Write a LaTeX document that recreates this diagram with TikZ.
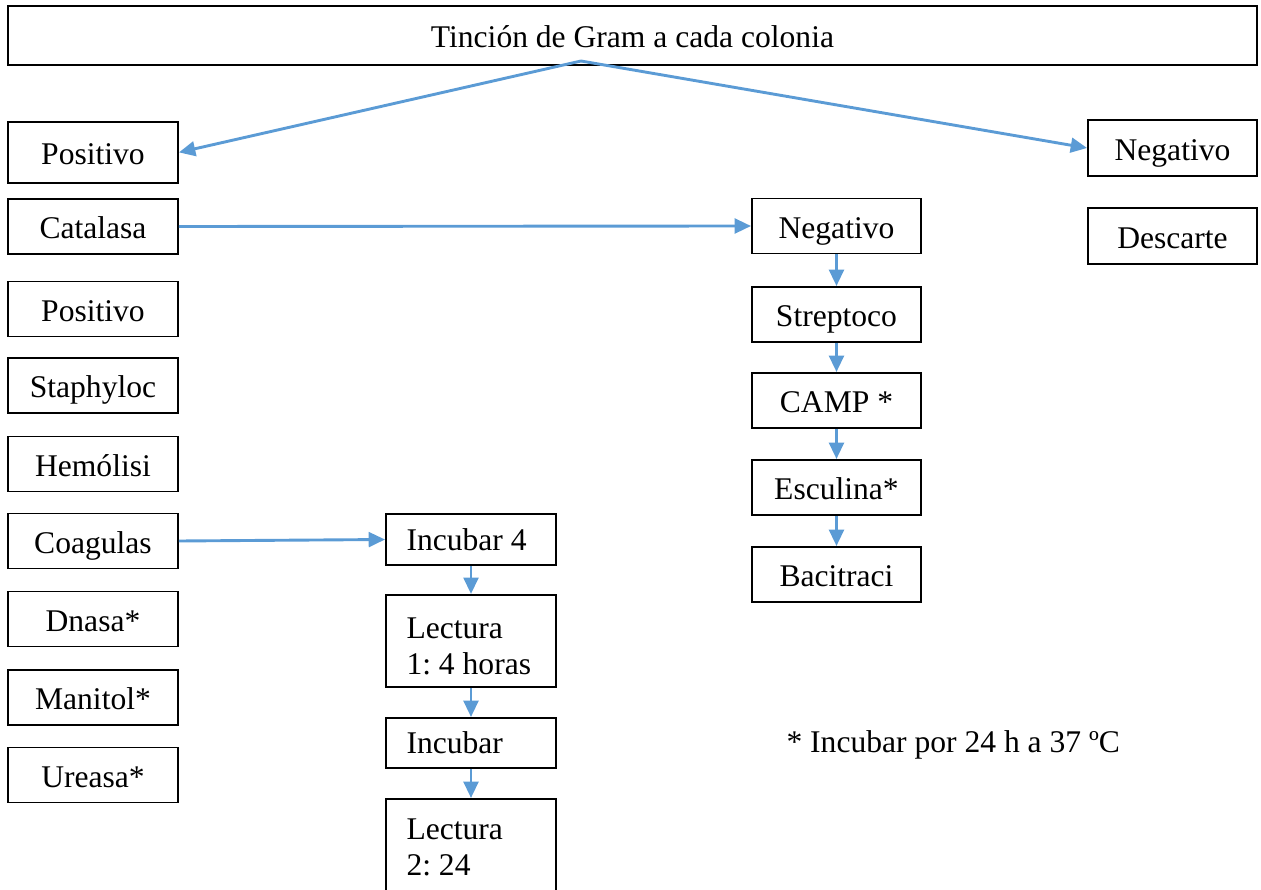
\documentclass[tikz,border=0pt]{standalone}
\usepackage{fontspec}
\setmainfont{Liberation Serif}
\usetikzlibrary{arrows.meta}
\definecolor{azul}{RGB}{91,155,213}
\tikzset{
	marco/.style={draw=black, line width=0.75pt, inner sep=0pt, minimum width=64.6pt, minimum height=20.9pt, font=\fontsize{12}{13.8}\selectfont},
	caja/.style={marco, text height=10pt, text depth=0.8pt},
	cajaizq/.style={marco, text width=49pt, inner xsep=7.8pt, align=flush left},
	flecha/.style={draw=azul, line width=1.1pt, -{Triangle[length=6.2pt, width=5.6pt]}}
}
\begin{document}
\begin{tikzpicture}[x=0.38pt, y=-0.38pt]
		%%%%% START %%%%%
		\useasboundingbox (0, 0) rectangle (1261, 890);
		\clip (0, 0) rectangle (1261, 890);
		
		\node[caja, minimum width=474.6pt, minimum height=22.4pt] (gram) at (632.5, 35.5) {Tinción de Gram a cada colonia};
		\coordinate (vertice) at (581, 61);
		
		% columna izquierda
		\node[caja, minimum height=23.3pt] (posA) at (93, 152.4) {Positivo};
		\node[caja] (cata) at (93, 226.5) {Catalasa};
		\node[caja] (posB) at (93, 309) {Positivo};
		\node[caja] (staph) at (93, 385.5) {Staphyloc};
		\node[caja] (hemo) at (93, 464) {Hemólisi};
		\node[caja] (coag) at (93, 541) {Coagulas};
		\node[caja] (dnasa) at (93, 619) {Dnasa*};
		\node[caja] (mani) at (93, 697.5) {Manitol*};
		\node[caja] (urea) at (93, 775) {Ureasa*};
		
		% columna derecha
		\node[caja, minimum width=64.2pt, minimum height=21.3pt] (negA) at (1172.5, 148) {Negativo};
		\node[caja, minimum width=64.2pt, minimum height=21.3pt] (desc) at (1172.5, 236) {Descarte};
		
		% Streptococcus
		\node[caja, minimum width=64.2pt] (negB) at (836.5, 226) {Negativo};
		\node[caja, minimum width=64.2pt] (strep) at (836.5, 314.5) {Streptoco};
		\node[caja, minimum width=64.2pt] (camp) at (836.5, 400.5) {CAMP *};
		\node[caja, minimum width=64.2pt] (escu) at (836.5, 487.5) {Esculina*};
		\node[caja, minimum width=64.2pt] (baci) at (836.5, 574.5) {Bacitraci};
		
		% coagulasa
		\node[cajaizq, minimum height=19.4pt] (inc4) at (471, 539.5) {Incubar 4};
		\node[cajaizq, minimum height=35pt] (lec1) at (471, 641) {\rule{0pt}{12pt}Lectura\\1:~4~horas};
		\node[cajaizq, minimum height=19pt] (inc) at (471, 743) {Incubar};
		\node[cajaizq, anchor=north, inner ysep=3.4pt] (lec2) at (471, 798) {\rule{0pt}{12pt}Lectura\\2:~24\\\strut\\\strut};
		
		\node[font=\fontsize{12}{13.8}\selectfont, anchor=west, inner sep=0pt] (nota) at (786, 745) {* Incubar por 24 h a 37 ºC};
		
		% flechas
		\draw[flecha] (vertice) -- (posA.east);
		\draw[flecha] (vertice) -- (negA.west);
		\draw[flecha] (cata.east) -- (negB.west);
		\draw[flecha] (coag.east) -- (inc4.west);
		\foreach \a/\b in {negB/strep, strep/camp, camp/escu, escu/baci, inc4/lec1, lec1/inc, inc/lec2}
			\draw[flecha] (\a) -- (\b);
		
		%%%%% END %%%%%
	\end{tikzpicture}
\end{document}
